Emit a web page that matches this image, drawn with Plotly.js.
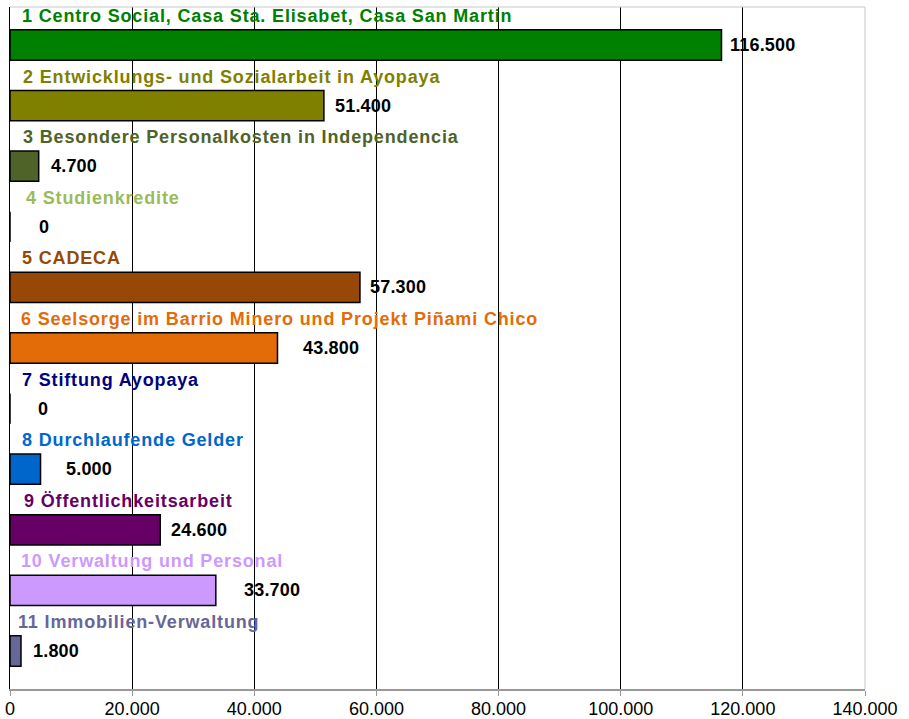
<!DOCTYPE html>
<html>
<head>
<meta charset="utf-8">
<script src="https://cdn.plot.ly/plotly-3.0.1.min.js"></script>
<style>html,body{margin:0;padding:0;background:#fff;}#chart{width:909px;height:719px;}</style>
</head>
<body>
<div id="chart"></div>
<script>
// ---- data ----
const categories = [
  "1 Centro Social, Casa Sta. Elisabet, Casa San Martin",
  "2 Entwicklungs- und Sozialarbeit in Ayopaya",
  "3 Besondere Personalkosten in Independencia",
  "4 Studienkredite",
  "5 CADECA",
  "6 Seelsorge im Barrio Minero und Projekt Piñami Chico",
  "7 Stiftung Ayopaya",
  "8 Durchlaufende Gelder",
  "9 Öffentlichkeitsarbeit",
  "10 Verwaltung und Personal",
  "11 Immobilien-Verwaltung"
];
const values = [116500, 51400, 4700, 0, 57300, 43800, 0, 5000, 24600, 33700, 1800];
const tickValues = [0, 20000, 40000, 60000, 80000, 100000, 120000, 140000];

// ---- styles ----
const colors = ["#008000", "#808000", "#4F6228", "#9BBB59", "#974806", "#E36C09",
                "#000080", "#0066CC", "#660066", "#CC99FF", "#666699"];
const valueLabelShift = [7, 9, 10, 27, 8, 24, 26, 23, 9, 26, 10];
const catLabelShift = [10, 11, 11, 14, 10, 9, 10, 10, 12, 9, 6];

function fmt(v) {
  return String(Math.round(v)).replace(/\B(?=(\d{3})+(?!\d))/g, ".");
}

const pos = categories.map((c, i) => i + 1);

const trace = {
  type: "bar",
  orientation: "h",
  x: values,
  y: pos,
  width: 0.5,
  marker: {color: colors, line: {color: "#000000", width: 1.5}},
  hoverinfo: "skip"
};

const annotations = [];
categories.forEach((c, i) => {
  annotations.push({
    x: 0, y: pos[i], xref: "x", yref: "y",
    text: '<span style="letter-spacing:0.85px"><b>' + c + "</b></span>",
    showarrow: false, xanchor: "left", yanchor: "middle",
    xshift: catLabelShift[i], yshift: 29,
    font: {family: "Liberation Sans, Arial, sans-serif", size: 18, color: colors[i]}
  });
  annotations.push({
    x: values[i], y: pos[i], xref: "x", yref: "y",
    text: '<span style="letter-spacing:0.2px"><b>' + fmt(values[i]) + "</b></span>",
    showarrow: false, xanchor: "left", yanchor: "middle",
    xshift: valueLabelShift[i], yshift: 0,
    font: {family: "Liberation Sans, Arial, sans-serif", size: 18, color: "#000000"}
  });
});

const layout = {
  width: 909, height: 719,
  margin: {l: 10, r: 44, t: 7, b: 30, pad: 0},
  paper_bgcolor: "#ffffff",
  plot_bgcolor: "#ffffff",
  showlegend: false,
  hovermode: false,
  separators: ",.",
  font: {family: "Liberation Sans, Arial, sans-serif", size: 18, color: "#000000"},
  xaxis: {
    range: [0, 140000],
    tickvals: tickValues,
    ticktext: tickValues.map(fmt),
    showgrid: true, gridcolor: "#000000", gridwidth: 1,
    zeroline: false,
    showline: true, linecolor: "#999999", linewidth: 2,
    ticks: "outside", ticklen: 5, tickcolor: "#999999", tickwidth: 1,
    ticklabelstandoff: -3,
    tickfont: {size: 18, color: "#000000"},
    fixedrange: true
  },
  yaxis: {
    range: [11.627, 0.373],
    showticklabels: false,
    showgrid: false, zeroline: false,
    showline: true, linecolor: "#000000", linewidth: 1.5,
    ticks: "",
    fixedrange: true
  },
  shapes: [
    {type: "line", xref: "paper", yref: "paper", x0: 0, x1: 1, y0: 1, y1: 1,
     line: {color: "#c8c8c8", width: 1}},
    {type: "line", xref: "paper", yref: "paper", x0: 1, x1: 1, y0: 0, y1: 1,
     line: {color: "#c8c8c8", width: 1}}
  ],
  annotations: annotations
};

Plotly.newPlot("chart", [trace], layout, {staticPlot: true, displayModeBar: false});
</script>
</body>
</html>
